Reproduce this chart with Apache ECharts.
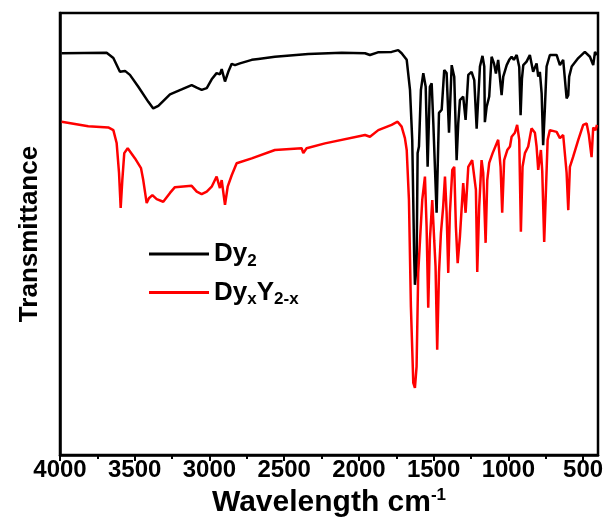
<!DOCTYPE html>
<html>
<head>
<meta charset="utf-8">
<script src="https://cdn.jsdelivr.net/npm/echarts@6/dist/echarts.min.js"></script>
<style>html,body{margin:0;padding:0;background:#fff}#c{width:608px;height:526px}</style>
</head>
<body>
<div id="c"></div>
<script>
const seriesNames = ['Dy2', 'DyxY2-x'];
const xTickValues = [4000, 3500, 3000, 2500, 2000, 1500, 1000, 500];
const xMinorTickValues = [3750, 3250, 2750, 2250, 1750, 1250, 750];

const dy2Wavenumber = [3989,3688,3643,3599,3565,3532,3476,3409,3376,3342,3264,3186,3119,3085,3052,3018,2985,2952,2930,2918,2896,2874,2851,2829,2796,2717,2673,2562,2339,2115,1959,1926,1873,1781,1737,1714,1680,1658,1643,1630,1625,1614,1607,1598,1585,1569,1553,1540,1525,1513,1502,1480,1464,1446,1429,1413,1397,1379,1362,1346,1335,1324,1302,1286,1268,1246,1228,1212,1190,1173,1161,1157,1145,1128,1112,1096,1083,1068,1045,1034,1011,994,978,963,944,927,918,909,900,878,856,834,811,800,789,777,767,755,744,722,677,655,633,610,599,593,576,532,488,454,432,420,407];
const dy2Trans = [90.9,91.0,89.8,86.7,86.9,86.0,83.3,79.9,78.4,79.0,81.6,82.7,83.7,83.1,82.6,83.0,85.0,86.4,86.1,87.3,84.5,86.7,88.5,88.2,88.6,89.4,89.6,90.1,90.7,91.0,90.9,90.5,91.1,91.2,91.6,90.9,89.4,82.6,71.3,44.9,38.5,42.6,68.3,69.8,82.6,86.4,83.3,65.2,83.3,84.1,75.1,54.8,77.4,78.1,87.1,86.4,72.9,88.2,85.6,66.7,75.1,80.3,81.1,75.8,86.0,86.7,84.8,73.8,87.9,90.3,87.9,75.3,78.8,81.1,90.1,88.6,86.3,89.4,81.4,85.6,88.2,89.4,90.1,89.4,90.5,87.8,76.9,85.1,88.2,89.0,90.5,86.7,88.6,85.6,86.7,81.8,70.1,78.8,87.9,90.5,90.5,88.2,89.4,80.7,81.4,85.6,87.9,89.8,91.2,90.1,88.2,91.2,90.5];

const dyyWavenumber = [3989,3811,3677,3643,3621,3605,3594,3583,3570,3547,3498,3458,3443,3420,3405,3382,3353,3309,3264,3231,3119,3085,3052,3018,2985,2952,2930,2918,2896,2878,2851,2818,2717,2562,2383,2372,2350,2227,1959,1926,1870,1781,1741,1714,1692,1680,1665,1652,1636,1625,1614,1603,1591,1576,1558,1547,1536,1525,1509,1496,1487,1476,1464,1451,1436,1424,1413,1402,1391,1375,1362,1351,1339,1324,1302,1286,1268,1242,1230,1217,1208,1195,1179,1168,1152,1141,1128,1105,1068,1052,1041,1028,1007,989,978,956,941,927,916,905,889,867,845,822,811,800,782,773,760,749,737,722,677,655,633,610,599,588,566,532,499,476,461,443,432,416,407];
const dyyTrans = [75.4,74.4,74.1,73.5,70.6,63.8,55.9,62.2,68.3,69.4,67.1,64.9,62.2,57.0,58.1,58.8,57.9,57.3,59.3,60.6,60.9,59.6,59.0,59.6,60.7,63.0,60.4,62.2,56.6,60.7,63.3,66.0,67.1,69.0,69.4,68.3,69.4,70.5,72.4,72.0,73.5,74.7,75.4,74.3,71.7,69.0,57.7,33.6,16.3,15.2,20.0,41.2,48.6,57.7,63.0,51.7,33.3,48.6,57.7,48.6,42.6,23.8,41.2,50.2,56.2,63.0,54.8,41.2,54.8,64.5,65.2,51.7,43.4,49.4,61.5,54.8,65.2,66.7,66.7,60.0,41.4,56.2,66.7,63.8,48.0,62.2,66.1,68.3,71.3,65.2,54.8,66.7,69.0,69.8,72.0,72.9,74.7,71.3,50.5,65.2,68.3,69.8,73.9,72.9,69.8,64.5,69.0,64.1,48.2,48.2,71.3,73.5,73.1,71.7,72.4,63.8,55.4,65.2,67.5,71.3,74.7,75.0,72.4,67.4,74.1,73.5,74.7];

const FONT = '"Liberation Sans", Arial, sans-serif';
const pair = (xs, ys) => xs.map((x, i) => [x, ys[i]]);

const chart = echarts.init(document.getElementById('c'), null, {renderer: 'canvas'});
chart.setOption({
  animation: false,
  backgroundColor: '#fff',
  grid: {left: 60, right: 10, top: 13, bottom: 71, show: true, borderColor: '#000', borderWidth: 2.5, backgroundColor: 'transparent'},
  legend: {
    orient: 'vertical', left: 144, top: 236, itemGap: 10,
    itemWidth: 60, itemHeight: 3, icon: 'rect',
    data: seriesNames,
    formatter: function (n) {
      return n === 'Dy2' ? '{m|Dy}{s|2}' : '{m|Dy}{s|x}{m|Y}{s|2-x}';
    },
    textStyle: {
      fontFamily: FONT, fontWeight: 'bold', fontSize: 26, color: '#000',
      rich: {
        m: {fontFamily: FONT, fontWeight: 'bold', fontSize: 26, color: '#000'},
        s: {fontFamily: FONT, fontWeight: 'bold', fontSize: 17, color: '#000', padding: [14, 0, 0, 0]}
      }
    }
  },
  xAxis: [{
    type: 'value', inverse: true, min: 400, max: 4000,
    name: '{m|Wavelength cm}{p|-1}', nameLocation: 'middle', nameGap: 26,
    nameTextStyle: {
      fontFamily: FONT, fontWeight: 'bold', fontSize: 30, color: '#000',
      rich: {
        m: {fontFamily: FONT, fontWeight: 'bold', fontSize: 30, color: '#000'},
        p: {fontFamily: FONT, fontWeight: 'bold', fontSize: 17, color: '#000', padding: [0, 0, 15, 0]}
      }
    },
    axisLine: {show: true, onZero: false, lineStyle: {color: '#000', width: 2.5}},
    axisTick: {show: true, inside: false, length: 6, lineStyle: {color: '#000', width: 2}, customValues: xTickValues},
    axisLabel: {show: true, customValues: xTickValues, margin: 3, fontFamily: FONT, fontWeight: 'bold', fontSize: 24, color: '#000', showMinLabel: true, showMaxLabel: true,
      formatter: function (v) { return String(v); }},
    splitLine: {show: false}
  }, {
    type: 'value', inverse: true, min: 400, max: 4000, position: 'bottom',
    axisLine: {show: false},
    axisTick: {show: true, inside: false, length: 4, lineStyle: {color: '#000', width: 2}, customValues: xMinorTickValues},
    axisLabel: {show: false},
    splitLine: {show: false}
  }],
  yAxis: {
    type: 'value', min: 0, max: 100,
    name: 'Transmittance', nameLocation: 'middle', nameGap: 17,
    nameTextStyle: {fontFamily: FONT, fontWeight: 'bold', fontSize: 26, color: '#000'},
    axisLine: {show: true, onZero: false, lineStyle: {color: '#000', width: 2.5}},
    axisTick: {show: false}, axisLabel: {show: false}, splitLine: {show: false}
  },
  series: [{
    name: seriesNames[0], type: 'line', showSymbol: false, symbol: 'none',
    data: pair(dy2Wavenumber, dy2Trans),
    lineStyle: {color: '#000', width: 2.5}, itemStyle: {color: '#000'}
  }, {
    name: seriesNames[1], type: 'line', showSymbol: false, symbol: 'none',
    data: pair(dyyWavenumber, dyyTrans),
    lineStyle: {color: '#ff0000', width: 2.5}, itemStyle: {color: '#ff0000'}
  }]
});
</script>
</body>
</html>
